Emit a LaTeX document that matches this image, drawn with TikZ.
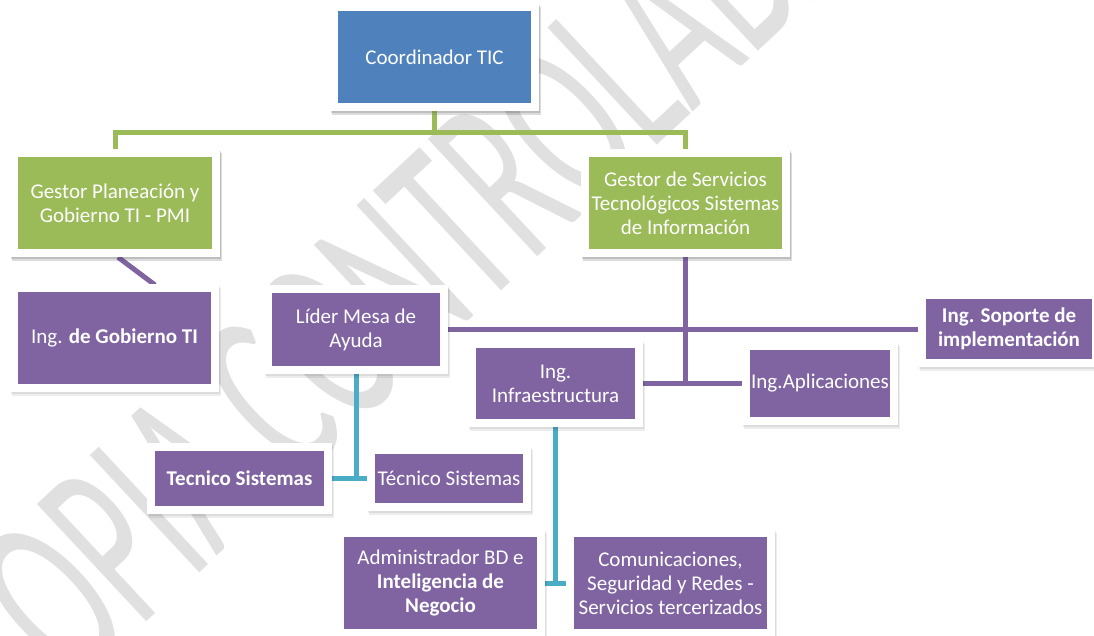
\documentclass[tikz,border=0pt]{standalone}
\usepackage{fontspec}
\setmainfont{Carlito}
\definecolor{cblue}{RGB}{79,129,189}
\definecolor{cgreen}{RGB}{155,187,89}
\definecolor{cpurple}{RGB}{128,100,162}
\definecolor{cteal}{RGB}{75,172,198}
\definecolor{wmgray}{RGB}{224,224,224}
\begin{document}
\begin{tikzpicture}[x=1pt,y=-1pt,
  box/.style={rectangle, inner sep=0pt, align=center, text=white, fill=white,
    font=\fontsize{21}{24}\selectfont,
    preaction={fill=black, fill opacity=0.07, transform canvas={shift={(0.5pt,-2pt)}}},
    preaction={fill=black, fill opacity=0.07, transform canvas={shift={(1.5pt,-4pt)}}},
    path picture={\fill[#1] ([shift={(8pt,8pt)}]path picture bounding box.south west) rectangle ([shift={(-8pt,-8pt)}]path picture bounding box.north east);}},
  gline/.style={draw=cgreen, line width=5pt},
  pline/.style={draw=cpurple, line width=5pt},
  tline/.style={draw=cteal, line width=5pt},
  wm/.style={text=wmgray, font=\fontsize{250}{250}\selectfont, inner sep=0pt}]
\useasboundingbox (0,0) rectangle (1094,636);
\clip (0,0) rectangle (1094,636);
% watermark
\node[wm, rotate=43] (wmark) at (390,285) {\scalebox{0.55}[1]{COPIA CONTROLADA}};
% top boxes (named first, redrawn on top of connectors)
\path
  node[box=cblue,   minimum width=209pt, minimum height=108pt] (coord) at (434.5,57) {Coordinador TIC}
  node[box=cgreen,  minimum width=210pt, minimum height=108pt] (gplan) at (115,203) {Gestor Planeación y\\Gobierno TI - PMI}
  node[box=cgreen,  minimum width=209pt, minimum height=108pt] (gserv) at (685.5,203) {Gestor de Servicios\\Tecnológicos Sistemas\\de Información};
% connectors
\draw[gline] (coord.south) -- ++(0,21) -| (gplan.north);
\draw[gline] (coord.south) -- ++(0,21) -| (gserv.north);
\coordinate (igobtop) at (155,285);
\draw[pline] ([xshift=3pt]gplan.south) -- (igobtop);
\coordinate (junc) at (685.5,383.5);
\draw[pline] (gserv.south) -- (junc);
\coordinate (lidr) at (448,329.5);
\coordinate (sopl) at (918,329.5);
\draw[pline] (lidr) -- (sopl);
\coordinate (infr) at (643,383.5);
\coordinate (apll) at (742,383.5);
\draw[pline] (infr) -- (apll);
\coordinate (lbot) at (356,374);
\coordinate (tj) at (356,478.5);
\draw[tline] (lbot) -- (tj);
\coordinate (t1r) at (331,478.5);
\coordinate (t2l) at (368,478.5);
\draw[tline] (t1r) -- (t2l);
\coordinate (ibot) at (555.5,427);
\coordinate (ij) at (555.5,583);
\draw[tline] (ibot) -- (ij);
\coordinate (adr) at (544,583);
\coordinate (cml) at (567,583);
\draw[tline] (adr) -- (cml);
% boxes
\node[box=cpurple, minimum width=209pt, minimum height=108pt] (igob) at (114.5,338) {Ing. \textbf{de Gobierno TI}};
\node[box=cpurple, minimum width=184pt, minimum height=89pt] (lider) at (356,329.5) {Líder Mesa de\\Ayuda};
\node[box=cpurple, minimum width=182pt, minimum height=76pt] (isop) at (1009,329) {\textbf{Ing. Soporte de}\\\textbf{implementación}};
\node[box=cpurple, minimum width=175pt, minimum height=87pt] (infra) at (555.5,383.5) {Ing.\\Infraestructura};
\node[box=cpurple, minimum width=156pt, minimum height=83pt] (iapl) at (820,383.5) {Ing.Aplicaciones};
\node[box=cpurple, minimum width=185pt, minimum height=71pt] (tec1) at (239.5,478.5) {\textbf{Tecnico Sistemas}};
\node[box=cpurple, minimum width=164pt, minimum height=65pt] (tec2) at (449,478.5) {Técnico Sistemas};
\node[box=cpurple, minimum width=209pt, minimum height=108pt] (admin) at (440.5,583) {Administrador BD e\\\textbf{Inteligencia de}\\\textbf{Negocio}};
\node[box=cpurple, minimum width=209pt, minimum height=108pt] (comm) at (670.5,583) {Comunicaciones,\\Seguridad y Redes -\\Servicios tercerizados};
\node[box=cblue,   minimum width=209pt, minimum height=108pt] at (coord) {Coordinador TIC};
\node[box=cgreen,  minimum width=210pt, minimum height=108pt] at (gplan) {Gestor Planeación y\\Gobierno TI - PMI};
\node[box=cgreen,  minimum width=209pt, minimum height=108pt] at (gserv) {Gestor de Servicios\\Tecnológicos Sistemas\\de Información};
\end{tikzpicture}
\end{document}
